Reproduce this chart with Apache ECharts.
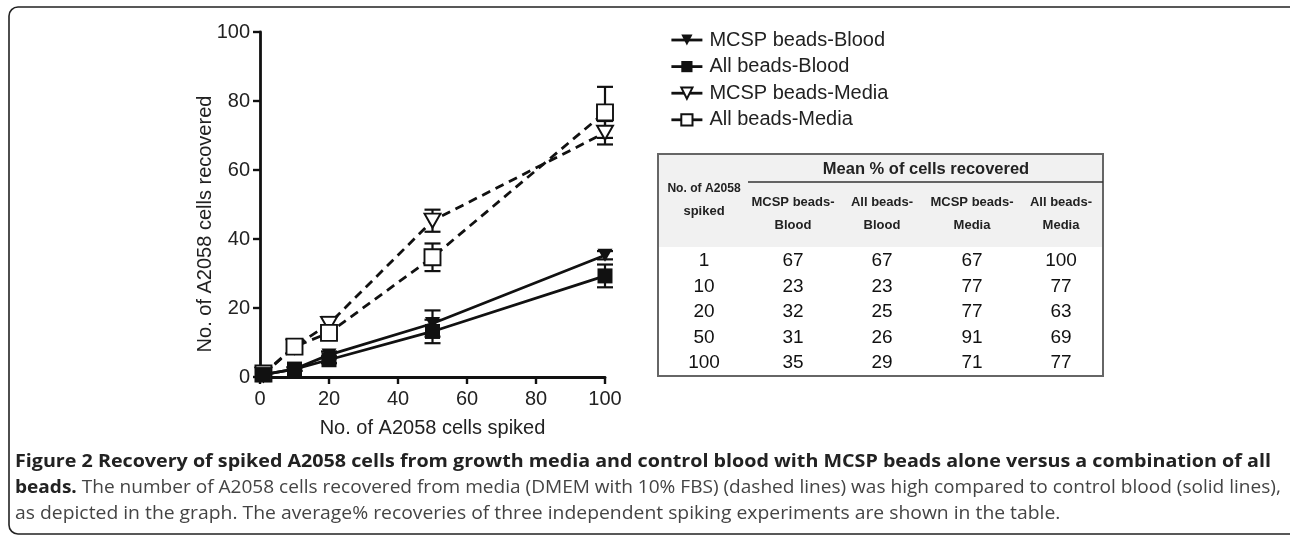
<!DOCTYPE html>
<html>
<head>
<meta charset="utf-8">
<script src="https://cdn.jsdelivr.net/npm/echarts@6/dist/echarts.min.js"></script>
<style>
html,body{margin:0;padding:0;background:#fff;}
#chart{width:1290px;height:537px;}
</style>
</head>
<body>
<div id="chart"></div>
<script>
// ---- data ----
var spiked = [1, 10, 20, 50, 100];
var seriesNames = ['MCSP beads-Blood', 'All beads-Blood', 'MCSP beads-Media', 'All beads-Media'];
var mcspBlood = [0.7, 2.3, 6.4, 15.5, 35.3];
var allBlood = [0.7, 2.3, 5.0, 13.2, 29.3];
var mcspMedia = [0.7, 8.8, 15.4, 45.3, 70.8];
var allMedia = [1.0, 8.8, 12.8, 34.7, 76.7];
var mcspBloodErr = [0.3, 0.5, 1.0, 3.8, 1.2];
var allBloodErr = [0.3, 0.5, 1.0, 3.4, 3.3];
var mcspMediaErr = [0.3, 0.8, 2.0, 3.2, 3.4];
var allMediaErr = [0.3, 0.8, 1.6, 4.0, 7.4];
var xTicks = [0, 20, 40, 60, 80, 100];
var yTicks = [0, 20, 40, 60, 80, 100];
var xTitle = 'No. of A2058 cells spiked';
var yTitle = 'No. of A2058 cells recovered';
// table
var tableTitle = 'Mean % of cells recovered';
var tableFirstHeader = ['No. of A2058', 'spiked'];
var tableColHeaders = [['MCSP beads-', 'Blood'], ['All beads-', 'Blood'], ['MCSP beads-', 'Media'], ['All beads-', 'Media']];
var tableSpiked = ['1', '10', '20', '50', '100'];
var pctMcspBlood = ['67', '23', '32', '31', '35'];
var pctAllBlood = ['67', '23', '25', '26', '29'];
var pctMcspMedia = ['67', '77', '77', '91', '71'];
var pctAllMedia = ['100', '77', '63', '69', '77'];
var captionLine1 = 'Figure 2 Recovery of spiked A2058 cells from growth media and control blood with MCSP beads alone versus a combination of all';
var captionLine2Bold = 'beads.';
var captionLine2 = ' The number of A2058 cells recovered from media (DMEM with 10% FBS) (dashed lines) was high compared to control blood (solid lines),';
var captionLine3 = 'as depicted in the graph. The average% recoveries of three independent spiking experiments are shown in the table.';

var chart = echarts.init(document.getElementById('chart'), null, {renderer: 'canvas'});

function pairs(vals) { return spiked.map(function (x, i) { return [x, vals[i]]; }); }
function errData(vals, errs) { return spiked.map(function (x, i) { return [x, vals[i] - errs[i], vals[i] + errs[i]]; }); }

function errSeries(vals, errs) {
  return {
    type: 'custom',
    silent: true,
    z: 1,
    data: errData(vals, errs),
    renderItem: function (params, api) {
      var x = api.value(0);
      var lo = api.coord([x, api.value(1)]);
      var hi = api.coord([x, api.value(2)]);
      var cap = 8;
      var st = {stroke: '#111', lineWidth: 2.2, fill: null};
      return {
        type: 'group',
        children: [
          {type: 'line', shape: {x1: lo[0], y1: lo[1], x2: hi[0], y2: hi[1]}, style: st},
          {type: 'line', shape: {x1: lo[0] - cap, y1: lo[1], x2: lo[0] + cap, y2: lo[1]}, style: st},
          {type: 'line', shape: {x1: hi[0] - cap, y1: hi[1], x2: hi[0] + cap, y2: hi[1]}, style: st}
        ]
      };
    }
  };
}

var tri = 'path://M0,0 L10,0 L5,9 Z';

function lineSeries(name, vals, dashed, symbol, filled, size, z) {
  return {
    name: name,
    type: 'line',
    z: z,
    data: pairs(vals),
    symbol: symbol,
    symbolSize: size,
    showAllSymbol: true,
    lineStyle: {color: '#111', width: 2.8, type: dashed ? [9, 6] : 'solid'},
    itemStyle: {color: filled ? '#111' : '#fff', borderColor: '#111', borderWidth: filled ? 0 : 1.9},
    emphasis: {disabled: true},
    animation: false
  };
}

// table graphics
var T = {left: 658, top: 154, right: 1103, bottom: 376, headBottom: 247};
var colX = [704, 793, 882, 972, 1061];
var rowY = [261, 287, 312, 338, 363];
var hdrFont = 'bold 13px "Liberation Sans", Arial, sans-serif';
var g = [];
g.push({type: 'rect', shape: {x: 9, y: 7, width: 1320, height: 527, r: 9}, style: {fill: null, stroke: '#222', lineWidth: 1.6}, z: 1});
g.push({type: 'text', x: 205, y: 224, rotation: Math.PI / 2, style: {text: yTitle, font: '20px "Liberation Sans", Arial, sans-serif', fill: '#222', align: 'center', verticalAlign: 'middle'}, z: 3});
g.push({type: 'rect', shape: {x: T.left, y: T.top, width: T.right - T.left, height: T.headBottom - T.top}, style: {fill: '#f1f1f1'}, z: 1});
g.push({type: 'rect', shape: {x: T.left, y: T.top, width: T.right - T.left, height: T.bottom - T.top}, style: {fill: null, stroke: '#666', lineWidth: 2}, z: 2});
g.push({type: 'line', shape: {x1: 748, y1: 182, x2: T.right, y2: 182}, style: {stroke: '#333', lineWidth: 1.5}, z: 2});
g.push({type: 'text', x: 926, y: 169, style: {text: tableTitle, font: 'bold 16.5px "Liberation Sans", Arial, sans-serif', fill: '#222', align: 'center', verticalAlign: 'middle'}, z: 3});
g.push({type: 'text', x: colX[0], y: 188, style: {text: tableFirstHeader[0], font: hdrFont, fill: '#222', align: 'center', verticalAlign: 'middle'}, z: 3, scaleX: 0.93});
g.push({type: 'text', x: colX[0], y: 211, style: {text: tableFirstHeader[1], font: hdrFont, fill: '#222', align: 'center', verticalAlign: 'middle'}, z: 3});
tableColHeaders.forEach(function (h, i) {
  g.push({type: 'text', x: colX[i + 1], y: 202, style: {text: h[0], font: hdrFont, fill: '#222', align: 'center', verticalAlign: 'middle'}, z: 3});
  g.push({type: 'text', x: colX[i + 1], y: 225, style: {text: h[1], font: hdrFont, fill: '#222', align: 'center', verticalAlign: 'middle'}, z: 3});
});
var cols = [tableSpiked, pctMcspBlood, pctAllBlood, pctMcspMedia, pctAllMedia];
cols.forEach(function (col, c) {
  col.forEach(function (v, r) {
    g.push({type: 'text', x: colX[c], y: rowY[r], style: {text: v, font: '19px "Liberation Sans", Arial, sans-serif', fill: '#111', align: 'center', verticalAlign: 'middle'}, z: 3});
  });
});
// caption
g.push({type: 'text', x: 15, y: 462, scaleX: 1.064, style: {text: captionLine1, font: 'bold 18.5px "Open Sans", sans-serif', fill: '#222', align: 'left', verticalAlign: 'middle'}, z: 3});
g.push({type: 'text', x: 15, y: 488, scaleX: 1.03, style: {
  text: '{b|' + captionLine2Bold + '}{n|' + captionLine2 + '}',
  rich: {b: {font: 'bold 18.5px "Open Sans", sans-serif', fill: '#222'}, n: {font: '18.5px "Open Sans", sans-serif', fill: '#444'}},
  align: 'left', verticalAlign: 'middle'}, z: 3});
g.push({type: 'text', x: 15, y: 514, scaleX: 1.045, style: {text: captionLine3, font: '18.5px "Open Sans", sans-serif', fill: '#444', align: 'left', verticalAlign: 'middle'}, z: 3});

var axisText = {color: '#222', fontSize: 20, fontFamily: '"Liberation Sans", Arial, sans-serif'};

var option = {
  backgroundColor: '#fff',
  animation: false,
  grid: {left: 260, right: 685, top: 32, bottom: 160, containLabel: false},
  legend: {
    orient: 'vertical',
    left: 665,
    top: 25,
    itemWidth: 31,
    itemHeight: 14,
    itemGap: 6.6,
    data: seriesNames,
    textStyle: {color: '#222', fontSize: 20, fontFamily: '"Liberation Sans", Arial, sans-serif', padding: [0, 0, 0, 2]},
    lineStyle: {type: 'solid', width: 2.8},
    selectedMode: false
  },
  xAxis: {
    type: 'value', min: 0, max: 100, interval: 20,
    name: xTitle, nameLocation: 'middle', nameGap: 41,
    nameTextStyle: {color: '#222', fontSize: 20, fontFamily: '"Liberation Sans", Arial, sans-serif'},
    axisLine: {show: true, lineStyle: {color: '#111', width: 2.8}, onZero: false},
    axisTick: {show: true, length: 7, lineStyle: {color: '#111', width: 2.4}},
    axisLabel: Object.assign({margin: 12, formatter: function (v) { return xTicks.indexOf(v) >= 0 ? String(v) : ''; }}, axisText),
    splitLine: {show: false}
  },
  yAxis: {
    type: 'value', min: 0, max: 100, interval: 20,
    axisLine: {show: true, lineStyle: {color: '#111', width: 2.8}},
    axisTick: {show: true, length: 7, lineStyle: {color: '#111', width: 2.4}},
    axisLabel: Object.assign({margin: 10, formatter: function (v) { return yTicks.indexOf(v) >= 0 ? String(v) : ''; }}, axisText),
    splitLine: {show: false}
  },
  series: [
    errSeries(mcspBlood, mcspBloodErr),
    errSeries(allBlood, allBloodErr),
    errSeries(mcspMedia, mcspMediaErr),
    errSeries(allMedia, allMediaErr),
    lineSeries(seriesNames[0], mcspBlood, false, tri, true, [15, 13], 5),
    lineSeries(seriesNames[1], allBlood, false, 'rect', true, 15, 5),
    lineSeries(seriesNames[2], mcspMedia, true, tri, false, [16, 14], 3),
    lineSeries(seriesNames[3], allMedia, true, 'rect', false, 16, 3)
  ],
  graphic: g
};
chart.setOption(option);
</script>
</body>
</html>
